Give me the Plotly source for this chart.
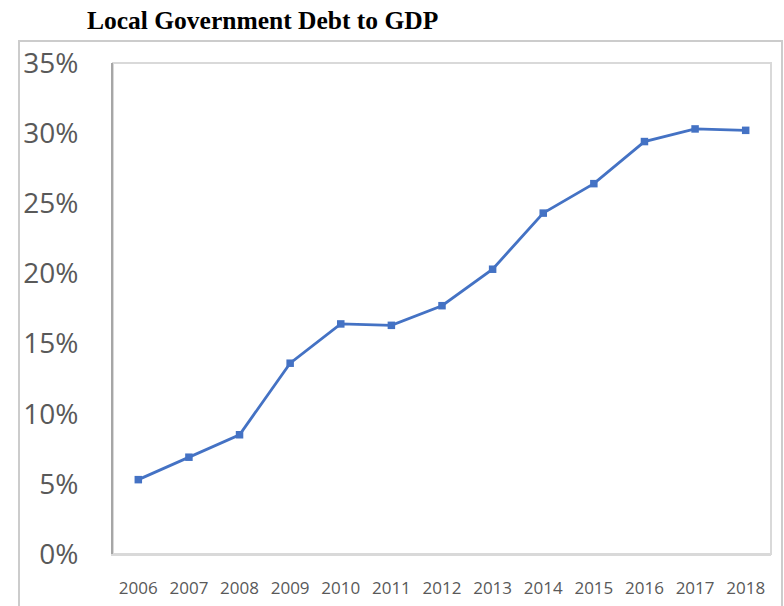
import plotly.graph_objects as go

years = ["2006", "2007", "2008", "2009", "2010", "2011", "2012",
         "2013", "2014", "2015", "2016", "2017", "2018"]
debt_to_gdp = [5.3, 6.9, 8.5, 13.6, 16.4, 16.3, 17.7,
               20.3, 24.3, 26.4, 29.4, 30.3, 30.2]
y_ticks = [0, 5, 10, 15, 20, 25, 30, 35]
y_tick_labels = ["0%", "5%", "10%", "15%", "20%", "25%", "30%", "35%"]

L, R, T, B = 113, 771, 63, 554
W, H = 784, 606
pw, ph = R - L, B - T

def px(x):
    return (x - L) / pw

def py(y):
    return (B - y) / ph

fig = go.Figure()
fig.add_trace(go.Scatter(
    x=years, y=debt_to_gdp, mode="lines+markers",
    line=dict(color="#4472C4", width=2.8),
    marker=dict(symbol="square", size=7.5, color="#4472C4"),
    showlegend=False,
))

tick_font = dict(family="Open Sans, sans-serif", color="#595959")

fig.update_layout(
    width=W, height=H,
    margin=dict(l=L, r=W - R, t=T, b=H - B, autoexpand=False),
    paper_bgcolor="white", plot_bgcolor="white",
    title=dict(text="<b>Local Government Debt to GDP</b>",
               font=dict(family="Liberation Serif, Times New Roman, serif", size=25.5, color="black"),
               x=87 / W, xanchor="left", xref="container",
               y=1 - 20 / H, yanchor="middle", yref="container"),
    xaxis=dict(type="category", range=[-0.5, 12.5], showgrid=False, zeroline=False,
               automargin=False,
               showline=True, linecolor="#d9d9d9", linewidth=2,
               ticks="outside", ticklen=18, tickcolor="rgba(0,0,0,0)",
               tickfont=dict(size=17, **tick_font)),
    yaxis=dict(range=[0, 35], tickvals=y_ticks, ticktext=y_tick_labels,
               showgrid=False, zeroline=False, automargin=False,
               showline=True, linecolor="#a6a6a6", linewidth=2,
               ticks="outside", ticklen=27, tickcolor="rgba(0,0,0,0)",
               tickfont=dict(size=28, **tick_font)),
    shapes=[
        dict(type="rect", xref="paper", yref="paper", x0=0, x1=1, y0=0, y1=1,
             line=dict(color="#d9d9d9", width=2), layer="below"),
        dict(type="rect", xref="paper", yref="paper",
             x0=px(19), x1=px(782), y0=py(700), y1=py(41),
             line=dict(color="#cccccc", width=2), layer="below"),
    ],
)

fig.write_html("out.html")
